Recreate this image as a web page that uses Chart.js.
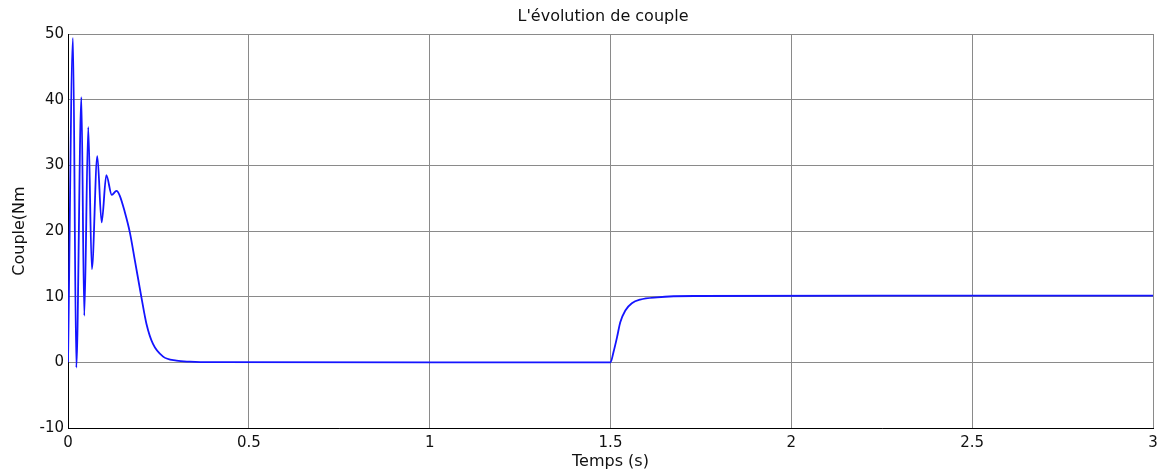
<!DOCTYPE html>
<html>
<head>
<meta charset="utf-8">
<script src="https://cdn.jsdelivr.net/npm/chart.js@4"></script>
<style>
  body { margin: 0; background: #fff; }
</style>
</head>
<body>
<canvas id="couple-chart" width="1165" height="475"></canvas>
<script>
// temps (s) et couple (Nm)
const temps = [0, 0.0138, 0.023, 0.037, 0.045, 0.056, 0.066, 0.081, 0.093, 0.106, 0.121, 0.134, 0.143,
  0.157, 0.171, 0.185, 0.203, 0.217, 0.235, 0.263, 0.30, 0.337, 0.4, 1.0, 1.5,
  1.508, 1.518, 1.527, 1.541, 1.559, 1.582, 1.629, 1.73, 2.5, 3.0];
const couple = [0, 49.4, -0.8, 40.4, 7.1, 35.8, 14.2, 31.4, 21.3, 28.5, 25.5, 26.1, 25.4,
  22.9, 19.8, 15.5, 9.9, 5.85, 2.8, 0.87, 0.26, 0.1, 0.02, 0, 0,
  1.5, 3.8, 6.1, 7.9, 9.0, 9.56, 9.9, 10.1, 10.15, 10.15];

const xTicks = [0, 0.5, 1, 1.5, 2, 2.5, 3];
const yTicks = [-10, 0, 10, 20, 30, 40, 50];

const titre = "L'évolution de couple";
const labelX = 'Temps (s)';
const labelY = 'Couple(Nm';

const textColor = '#111';
const gridColor = '#8a8a8a';

const titlePlugin = {
  id: 'titre',
  afterDraw(chart) {
    const ctx = chart.ctx;
    ctx.save();
    ctx.font = '16px "DejaVu Sans"';
    ctx.fillStyle = textColor;
    ctx.textAlign = 'center';
    ctx.textBaseline = 'middle';
    ctx.fillText(titre, 603, 17);
    ctx.restore();
  }
};

function initializeChart() {
  const points = temps.map((t, i) => ({ x: t, y: couple[i] }));

  const ctx = document.getElementById('couple-chart');

  const config = {
    type: 'line',
    data: {
      datasets: [{
        data: points,
        borderColor: 'rgb(20, 20, 255)',
        borderWidth: 1.8,
        pointRadius: 0,
        fill: false,
        cubicInterpolationMode: 'monotone'
      }]
    },
    options: {
      responsive: false,
      animation: false,
      layout: {
        padding: { top: 34, right: 12, left: 0, bottom: 0 }
      },
      plugins: {
        legend: { display: false },
        tooltip: { enabled: false }
      },
      scales: {
        x: {
          type: 'linear',
          min: 0,
          max: 3,
          afterBuildTicks: scale => { scale.ticks = xTicks.map(v => ({ value: v })); },
          afterFit: scale => { scale.height = 47; },
          grid: { color: gridColor, drawTicks: false },
          border: { color: '#000', width: 1 },
          ticks: {
            color: textColor,
            padding: 6,
            maxRotation: 0,
            callback: v => String(v),
            font: { family: 'DejaVu Sans', size: 15 }
          },
          title: {
            display: true,
            text: labelX,
            color: textColor,
            padding: { top: 0, bottom: 4 },
            font: { family: 'DejaVu Sans', size: 16 }
          }
        },
        y: {
          min: -10,
          max: 50,
          afterBuildTicks: scale => { scale.ticks = yTicks.map(v => ({ value: v })); },
          afterFit: scale => { scale.width = 68; },
          grid: { color: gridColor, drawTicks: false },
          border: { color: '#000', width: 1 },
          ticks: {
            color: textColor,
            padding: 4,
            callback: v => String(v),
            font: { family: 'DejaVu Sans', size: 15 }
          },
          title: {
            display: true,
            text: labelY,
            color: textColor,
            padding: { top: 10, bottom: 0 },
            font: { family: 'DejaVu Sans', size: 16 }
          }
        }
      }
    },
    plugins: [titlePlugin]
  };

  chartInstance = new Chart(ctx, config);
}

initializeChart();
</script>
</body>
</html>
